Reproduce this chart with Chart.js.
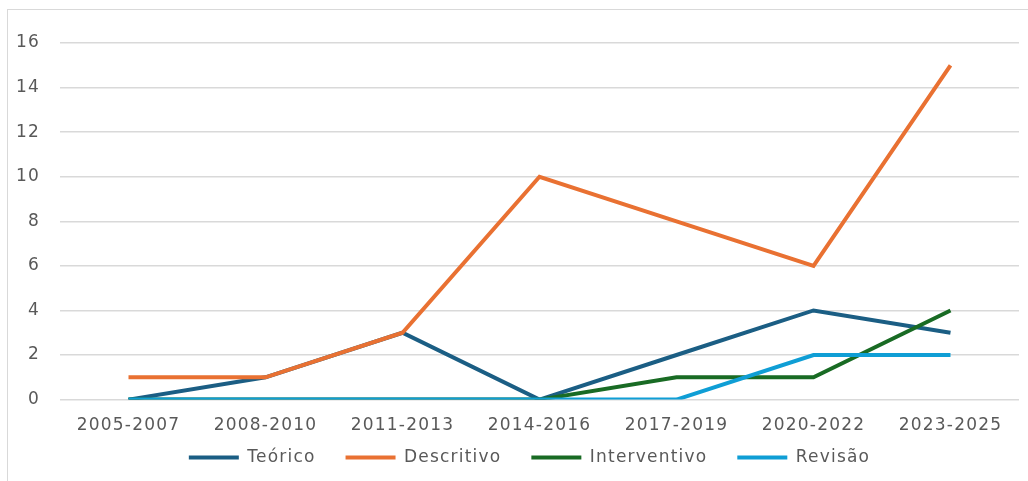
<!DOCTYPE html>
<html>
<head>
<meta charset="utf-8">
<script src="https://cdn.jsdelivr.net/npm/chart.js@4"></script>
<style>
  html, body { margin: 0; padding: 0; background: #fff; }
  #wrap { position: relative; width: 1028px; height: 481px; overflow: hidden; }
  #frame { position: absolute; left: 7px; top: 9px; width: 1040px; height: 500px; border: 1px solid #d9d9d9; box-sizing: border-box; }
  canvas { position: absolute; left: 0; top: 0; }
</style>
</head>
<body>
<div id="wrap">
  <div id="frame"></div>
  <canvas id="grafico" width="1028" height="481"></canvas>
</div>
<script>
const periodos = ["2005-2007", "2008-2010", "2011-2013", "2014-2016", "2017-2019", "2020-2022", "2023-2025"];
const teorico = [0, 1, 3, 0, 2, 4, 3];
const descritivo = [1, 1, 3, 10, 8, 6, 15];
const interventivo = [0, 0, 0, 0, 1, 1, 4];
const revisao = [0, 0, 0, 0, 0, 2, 2];
const ticksY = [0, 2, 4, 6, 8, 10, 12, 14, 16];

const corTexto = "#595959";
const fonte = { family: "DejaVu Sans", size: 17 };

function serie(label, data, cor, ordem) {
    return {
        label: label,
        data: data,
        borderColor: cor,
        backgroundColor: cor,
        borderWidth: 4,
        pointRadius: 0,
        tension: 0,
        order: ordem
    };
}

// texto um pouco mais espaçado, como no original
// e legenda mais junta do eixo (o padding da legenda serve para o espaço entre itens)
const ajustes = {
    id: "ajustes",
    beforeUpdate: (chart) => {
        chart.ctx.letterSpacing = "1.2px";
        const leg = chart.legend;
        if (leg && !leg._ajustada) {
            const proto = Object.getPrototypeOf(leg);
            leg.fit = function () { proto.fit.call(this); this.height -= 35; };
            leg.draw = function () {
                this.top -= 33; this.left += 16; this.right += 16;
                proto.draw.call(this);
                this.top += 33; this.left -= 16; this.right -= 16;
            };
            leg._ajustada = true;
        }
    },
    beforeDraw: (chart) => { chart.ctx.letterSpacing = "1.2px"; }
};

const ctx = document.getElementById("grafico").getContext("2d");
new Chart(ctx, {
    type: "line",
    data: {
        labels: periodos,
        datasets: [
            serie("Teórico", teorico, "#1b5e84", 4),
            serie("Descritivo", descritivo, "#e97132", 3),
            serie("Interventivo", interventivo, "#196b24", 2),
            serie("Revisão", revisao, "#0f9ed5", 1)
        ]
    },
    plugins: [ajustes],
    options: {
        responsive: false,
        animation: false,
        layout: { padding: { left: 8, right: 9, top: 43, bottom: 7 } },
        plugins: {
            tooltip: { enabled: false },
            legend: {
                position: "bottom",
                labels: {
                    color: corTexto,
                    font: fonte,
                    usePointStyle: true,
                    pointStyle: "line",
                    pointStyleWidth: 50,
                    padding: 30,
                    sort: (a, b) => a.datasetIndex - b.datasetIndex
                }
            }
        },
        scales: {
            x: {
                offset: true,
                grid: { display: false, drawTicks: false },
                border: { display: false },
                ticks: { color: corTexto, font: fonte, padding: 16, maxRotation: 0 }
            },
            y: {
                min: 0,
                max: 16,
                afterBuildTicks: (scale) => { scale.ticks = ticksY.map(v => ({ value: v })); },
                afterFit: (scale) => { scale.width = 52; },
                grid: { color: "#d9d9d9", lineWidth: 1.5, drawTicks: false },
                border: { display: false },
                ticks: { color: corTexto, font: fonte, padding: 20 }
            }
        }
    }
});
</script>
</body>
</html>
